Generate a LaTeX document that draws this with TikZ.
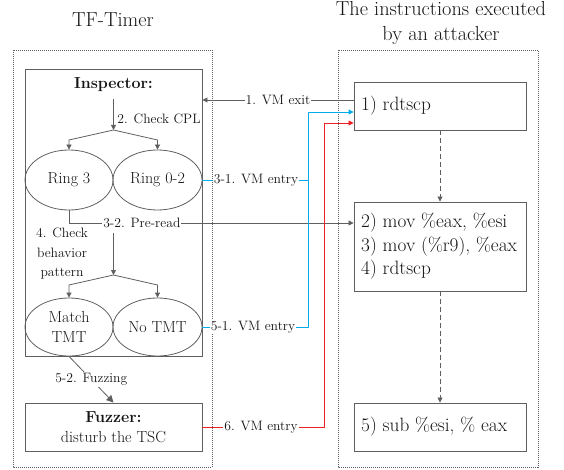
\documentclass[tikz,border=0pt]{standalone}
\usetikzlibrary{arrows.meta,shapes.geometric}
\definecolor{linegray}{RGB}{95,95,95}
\definecolor{textgray}{RGB}{20,20,20}
\definecolor{entryblue}{RGB}{0,170,235}
\definecolor{entryred}{RGB}{240,30,30}
\begin{document}
\begin{tikzpicture}[x=1pt,y=-1pt,
  every node/.style={text=textgray},
  conn/.style={draw=linegray, line width=0.8pt},
  tip/.style={-{Triangle[length=5pt,width=5pt]}},
  bigtip/.style={-{Triangle[length=7pt,width=7pt]}},
  frame/.style={draw=linegray, line width=0.5pt, dash pattern=on 1pt off 1pt},
  longdash/.style={dash pattern=on 5pt off 3pt},
  block/.style={draw=linegray, line width=0.9pt, inner sep=0pt},
  oval/.style={draw=linegray, line width=0.8pt, ellipse, inner sep=0pt, align=center,
    font=\fontsize{16}{20}\selectfont},
  lbl/.style={fill=white, inner sep=1pt, font=\fontsize{13.6}{19.5}\selectfont},
  title/.style={font=\fontsize{20.3}{25}\selectfont, align=center},
  code/.style={font=\fontsize{19.3}{23.5}\selectfont, align=left, anchor=west, inner sep=0pt}
]
\useasboundingbox (0,0) rectangle (564,470);

% titles
\node[title] (t1) at (113,20) {TF-Timer};
\node[title] (t2) at (441,23) {The instructions executed\\by an attacker};

% dotted frames
\draw[frame] (13,50) rectangle (212,467);
\draw[frame] (338,50) rectangle (538,467);

% TF-Timer side
\node[block, minimum width=177pt, minimum height=287pt] (insp) at (113.5,212.5) {};
\node[font=\fontsize{16}{20}\selectfont\bfseries] (insptxt) at (113.5,85) {Inspector:};
\node[oval, minimum width=88pt, minimum height=60pt] (ring3) at (69,180) {Ring 3};
\node[oval, minimum width=89pt, minimum height=60pt] (ring02) at (157.5,180) {Ring 0-2};
\node[oval, minimum width=88pt, minimum height=58pt] (match) at (69,327) {Match\\TMT};
\node[oval, minimum width=89pt, minimum height=58pt] (notmt) at (157.5,327) {No TMT};
\node[block, minimum width=177pt, minimum height=48pt, align=center,
  font=\fontsize{16}{20}\selectfont] (fuzz) at (113.5,427) {\textbf{Fuzzer:}\\disturb the TSC};

% attacker side
\node[block, minimum width=172pt, minimum height=48pt] (box1) at (440,106) {};
\node[code] (c1) at (361,106) {1) rdtscp};
\node[block, minimum width=172pt, minimum height=89pt] (box2) at (440,246.5) {};
\node[code] (c2) at (361,246.5) {2) mov \%eax, \%esi\\3) mov (\%r9), \%eax\\4) rdtscp};
\node[block, minimum width=172pt, minimum height=48pt] (box3) at (440,427) {};
\node[code] (c3) at (361,427) {5) sub \%esi, \% eax};

\draw[conn, tip, longdash] (box1.south) -- (box2.north);
\draw[conn, tip, longdash] (box2.south) -- (box3.north);

% check CPL
\coordinate (s1) at (113.5,99);
\coordinate (j1) at (113.5,130);
\draw[conn, tip] (s1) -- (j1);
\node[lbl, fill=none] (l2) at (159,119) {2. Check CPL};
\draw[conn, tip] (j1) -- (69,140) -- (ring3.north);
\draw[conn, tip] (j1) -- (157.5,140) -- (ring02.north);

% check behavior pattern
\coordinate (s2) at (113.5,233);
\coordinate (j2) at (113.5,275);
\draw[conn, tip] (s2) -- (j2);
\node[lbl, fill=none, align=center] (l4) at (62,254) {4. Check\\behavior\\pattern};
\draw[conn, tip] (j2) -- (69,285) -- (match.north);
\draw[conn, tip] (j2) -- (157.5,285) -- (notmt.north);

% fuzzing
\draw[conn, bigtip] (match.south) -- (fuzz.north) node[lbl, pos=0.5] {5-2. Fuzzing};

% VM exit
\draw[conn, tip] ([yshift=6pt]box1.west) -- ([yshift=6pt]box1.west -| insp.east)
  node[lbl, pos=0.5] {1. VM exit};

% pre-read
\draw[conn, tip] (ring3.south) |- ([yshift=23.5pt]box2.west)
  node[lbl, pos=0.628] {3-2. Pre-read};

% VM entries
\draw[entryblue, line width=0.9pt, tip] (ring02.east) -- (308,180) |- ([yshift=-6pt]box1.west);
\node[lbl] (l31) at (256,180) {3-1. VM entry};
\draw[entryblue, line width=0.9pt] (notmt.east) -- (308,327) -- (308,180);
\node[lbl] (l51) at (253,327) {5-1. VM entry};
\draw[entryred, line width=0.9pt, tip] (fuzz.east) -- (324,427) |- ([yshift=-17pt]box1.west);
\node[lbl] (l6) at (261,427) {6. VM entry};
\end{tikzpicture}
\end{document}
